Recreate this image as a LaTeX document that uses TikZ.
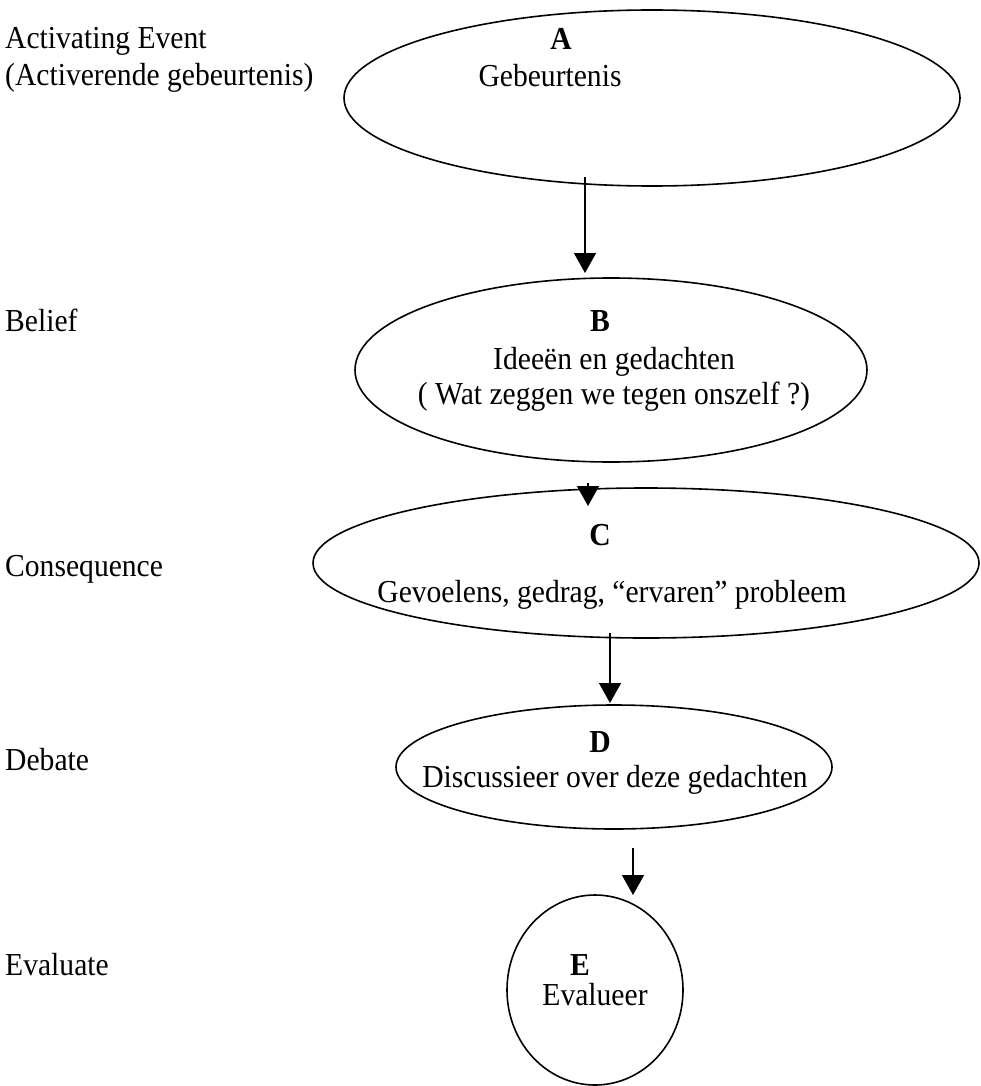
\documentclass[tikz,border=0pt]{standalone}
\usepackage{fontspec}
\setmainfont{Liberation Serif}[FakeStretch=0.925]
\usetikzlibrary{shapes.geometric,arrows.meta}
\begin{document}
\begin{tikzpicture}[x=1pt,y=-1pt,
  lbl/.style={anchor=base west,inner sep=0pt,font=\fontsize{32}{38}\selectfont},
  txt/.style={anchor=base,inner sep=0pt,font=\fontsize{32}{38}\selectfont},
  ltr/.style={anchor=base,inner sep=0pt,font=\fontsize{32}{38}\selectfont\bfseries},
  oval/.style={draw,ellipse,line width=1.6pt,inner sep=0pt},
  arr/.style={line width=1.4pt,-{Triangle[width=22pt,length=20pt]}}]
\useasboundingbox (0,0) rectangle (980,1086);
% left labels
\node[lbl] (l1) at (5,49) {Activating Event};
\node[lbl] (l1b) at (5,86) {(Activerende gebeurtenis)};
\node[lbl] (l2) at (5,331) {Belief};
\node[lbl] (l3) at (5,576) {Consequence};
\node[lbl] (l4) at (5,770) {Debate};
\node[lbl] (l5) at (5,975) {Evaluate};
% ellipses
\node[oval,minimum width=616pt,minimum height=176pt] (eA) at (652,98) {};
\node[oval,minimum width=512pt,minimum height=184pt] (eB) at (611,370) {};
\node[oval,minimum width=666pt,minimum height=150pt] (eC) at (646,563) {};
\node[oval,minimum width=436pt,minimum height=124pt] (eD) at (614,767) {};
\node[oval,minimum width=176pt,minimum height=190pt] (eE) at (595,990) {};
% texts
\node[ltr] (tA) at (561,50) {A};
\node[txt] (tA1) at (550,87) {Gebeurtenis};
\node[ltr] (tB) at (600,331) {B};
\node[txt] (tB1) at (614,369) {Ideeën en gedachten};
\node[txt] (tB2) at (614,404) {( Wat zeggen we tegen onszelf ?)};
\node[ltr] (tC) at (600,545) {C};
\node[txt] (tC1) at (612,602) {Gevoelens, gedrag, “ervaren” probleem};
\node[ltr] (tD) at (600,752) {D};
\node[txt] (tD1) at (615,787) {Discussieer over deze gedachten};
\node[ltr] (tE) at (580,975) {E};
\node[txt] (tE1) at (595,1005) {Evalueer};
% arrows
\coordinate (a1) at (585,177); \coordinate (a2) at (585,273);
\coordinate (b1) at (588,483); \coordinate (b2) at (588,506);
\coordinate (c1) at (610,633); \coordinate (c2) at (610,703);
\coordinate (d1) at (633,848); \coordinate (d2) at (633,895);
\draw[arr] (a1) -- (a2);
\draw[arr] (b1) -- (b2);
\draw[arr] (c1) -- (c2);
\draw[arr] (d1) -- (d2);
\end{tikzpicture}
\end{document}
